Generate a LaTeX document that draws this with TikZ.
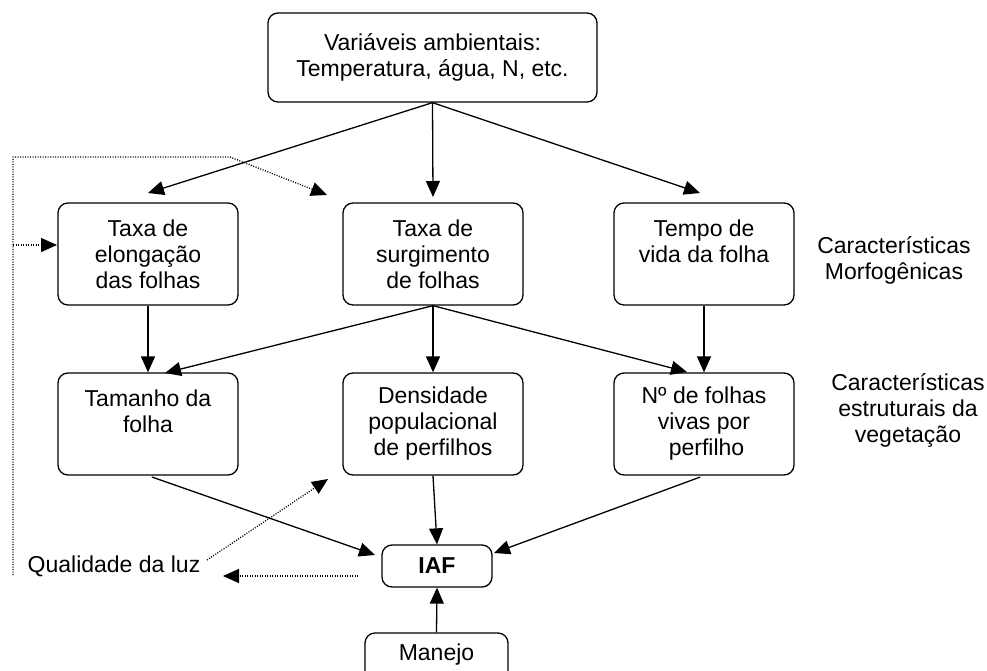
\documentclass[tikz,border=0pt]{standalone}
\usepackage{fontspec}
\setmainfont{Liberation Sans}
\usetikzlibrary{arrows.meta}

\begin{document}
\begin{tikzpicture}[x=1pt,y=-1pt]
\tikzstyle{box} = [draw=black, line width=1.3pt, rounded corners=10pt, align=center, inner sep=0pt, minimum width=180pt, minimum height=102pt, font=\fontsize{23}{26}\selectfont]
\tikzstyle{side text} = [align=center, inner sep=0pt, font=\fontsize{23}{26}\selectfont]
\tikzstyle{edge} = [draw=black, line width=1.3pt, -{Triangle[length=16pt,width=14pt]}]
\tikzstyle{dotted edge} = [edge, line width=1.3pt, dash pattern=on 1pt off 1.5pt]

\useasboundingbox (0,0) rectangle (987,671);

\node[box, minimum width=329pt, minimum height=89pt] (amb) at (432.5,57.5) {Variáveis ambientais:\\Temperatura, água, N, etc.};
\node[box] (elong) at (148,254) {Taxa de\\elongação\\das folhas};
\node[box] (surg) at (433,254) {Taxa de\\surgimento\\de folhas};
\node[box] (vida) at (704,254) {Tempo de\\vida da folha\\\mbox{}};
\node[box] (tam) at (148,424) {Tamanho da\\folha\\\mbox{}};
\node[box] (dens) at (433,424) {Densidade\\populacional\\de perfilhos};
\node[box] (nfv) at (704,424) {Nº de folhas\\vivas por\\\hspace*{5pt}perfilho};
\node[box, minimum width=110pt, minimum height=42pt] (iaf) at (437,566) {\bfseries IAF};
\node[box, minimum width=143pt, minimum height=60pt, text height=17pt, text depth=23pt] (manejo) at (436.5,663) {Manejo};

\node[side text] (morf) at (894,260) {Características\\Morfogênicas};
\node[side text] (estr) at (908,410) {Características\\estruturais da\\vegetação};
\node[side text] (luz) at (114,566) {Qualidade da luz};

% ends of the arrows
\coordinate (a1) at (148,193);
\coordinate (a2) at (433,197);
\coordinate (a3) at (700,193);
\coordinate (b1) at (165,373);
\coordinate (b2) at (687,372);
\coordinate (c1) at (375,555);
\coordinate (c2) at (494,553);

\path (amb.south) edge[edge] (a1);
\path (amb.south) edge[edge] (a2);
\path (amb.south) edge[edge] (a3);
\path (elong.south) edge[edge] (tam.north);
\path (surg.south) edge[edge] (dens.north);
\path (vida.south) edge[edge] (nfv.north);
\path (surg.south) edge[edge] (b1);
\path (surg.south) edge[edge] (b2);
\path (tam.south) edge[edge, shorten <=4pt] (c1);
\path (nfv.south) edge[edge, shorten <=4pt] (c2);
\path (dens.south) edge[edge] (iaf.north);
\path (manejo.north) edge[edge] (iaf.south);

% dotted feedback
\coordinate (d0) at (13,575);
\coordinate (d1) at (13,157);
\coordinate (d2) at (230,157);
\coordinate (d3) at (327,195);
\coordinate (d4) at (13,245);
\coordinate (d5) at (57,245);
\coordinate (q1) at (207,560);
\coordinate (q2) at (328,479);
\coordinate (q3) at (358,576);
\coordinate (q4) at (223,576);

\draw[dotted edge] (d0) -- (d1) -- (d2) -- (d3);
\draw[dotted edge] (d4) -- (d5);
\draw[dotted edge] (q1) -- (q2);
\draw[dotted edge] (q3) -- (q4);
\end{tikzpicture}
\end{document}
